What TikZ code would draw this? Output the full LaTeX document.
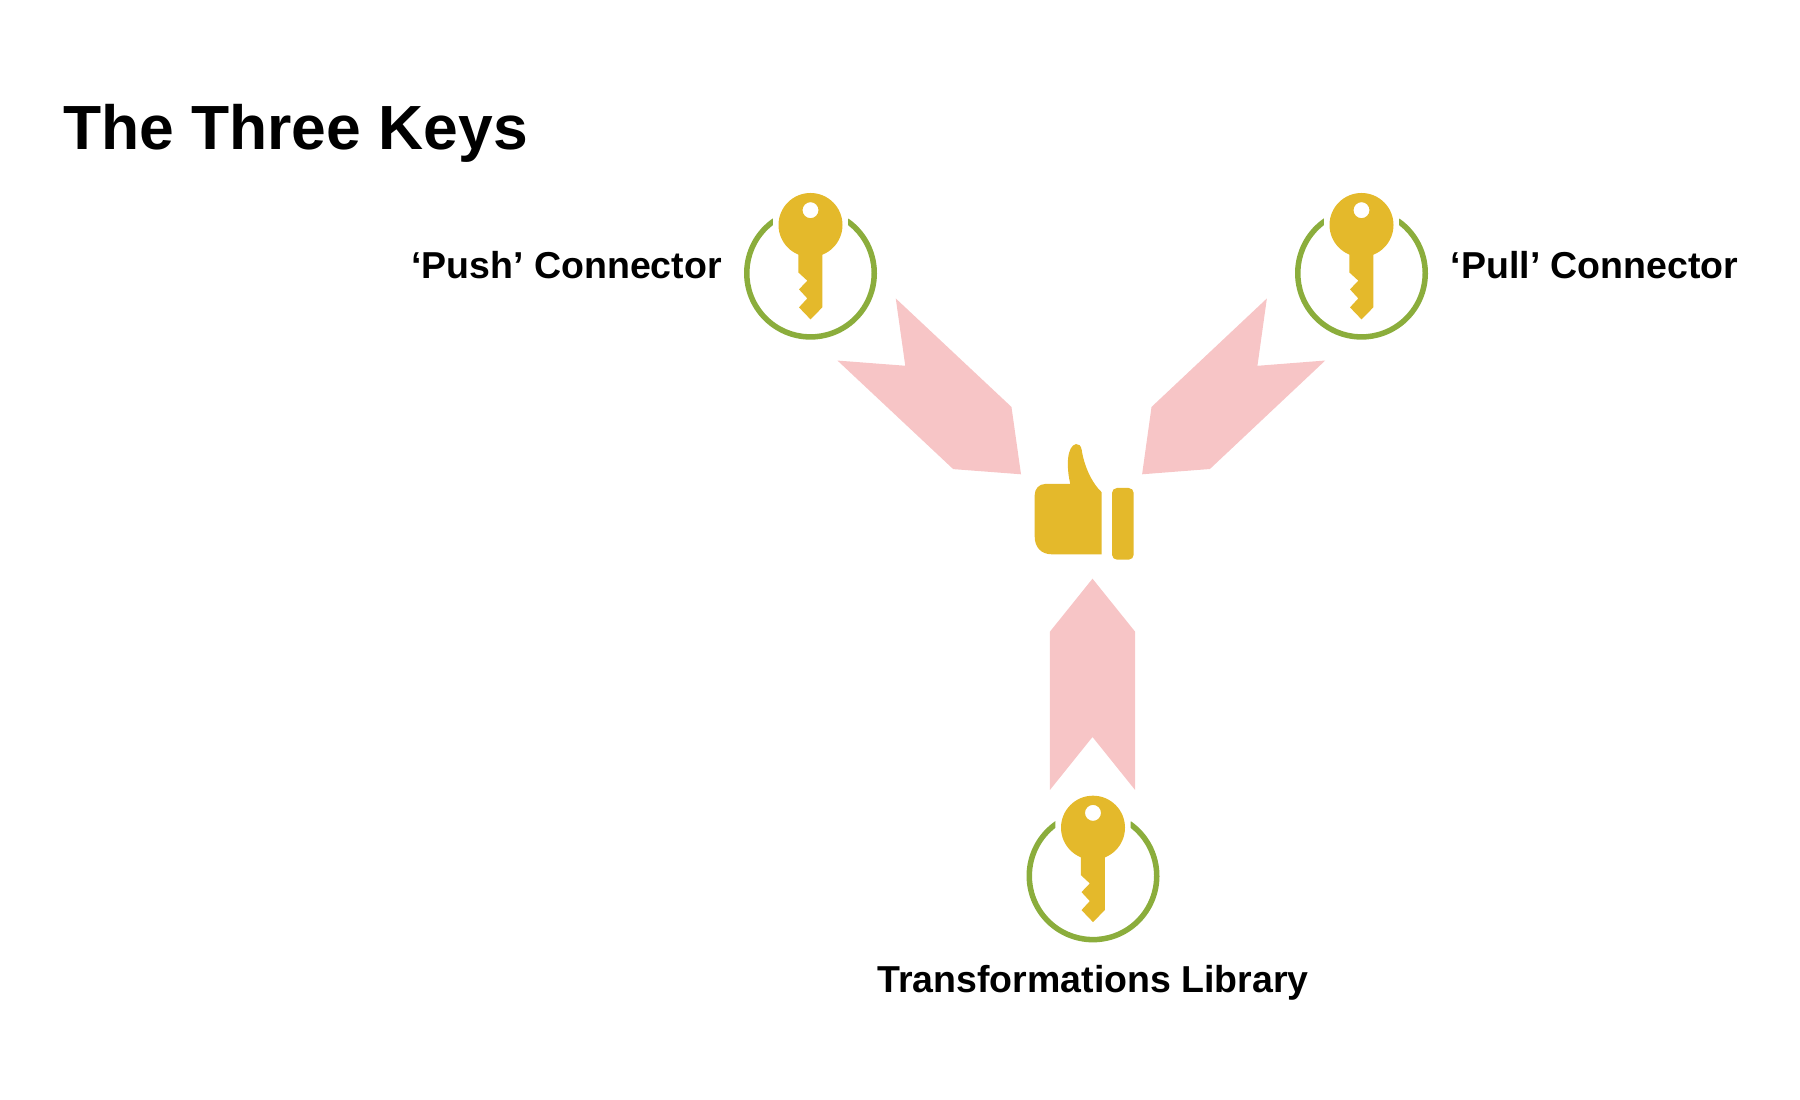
\documentclass[tikz,border=0pt]{standalone}
\usepackage{xcolor}
\usepackage{fontspec}
\setmainfont{Liberation Sans}
\usetikzlibrary{calc}
\definecolor{keycol}{HTML}{E4B92B}
\definecolor{ringcol}{HTML}{8BAD3C}
\definecolor{arrowcol}{HTML}{F7C5C6}

\newcommand{\fatarrow}[2]{%
  \coordinate (sh) at ($(#2)!53pt!(#1)$);
  \fill[fatarrow] ($(#1)!42.6pt!90:(#2)$) -- ($(#1)!53pt!(#2)$) -- ($(#1)!42.6pt!-90:(#2)$)
    -- ($(sh)!42.6pt!-90:(#2)$) -- (#2) -- ($(sh)!42.6pt!90:(#2)$) -- cycle;}

\tikzset{
  keyicon/.pic={
    % ring, open at the top
    \fill[ringcol] (55.4:66.5) arc[start angle=55.4, end angle=-235.4, radius=66.5]
      -- (128:61) arc[start angle=128, end angle=412, radius=61] -- cycle;
    \fill[keycol, even odd rule] (0,48.2) circle (32) (0,63) circle (8);
    \fill[keycol] (-12.2,22) -- (11.8,22) -- (11.8,-34.2) -- (0,-46.2) -- (-11.5,-34.2)
      -- (-3.2,-25.2) -- (-11.5,-16.2) -- (-3.2,-7.5) -- (-12.2,0.8) -- cycle;
  }
}

\begin{document}
\begin{tikzpicture}[
  x=1pt, y=1pt,
  fatarrow/.style={fill=arrowcol},
  heading/.style={font=\fontsize{62.4}{70}\selectfont\bfseries, inner sep=0pt},
  keylbl/.style={font=\fontsize{37.5}{44}\selectfont\bfseries, inner sep=0pt}
]
  \useasboundingbox (0,0) rectangle (1800,1100);

  \node[heading, anchor=base west] (title) at (63,950) {The Three Keys};

  \pic at (810.5,826.8) {keyicon};
  \pic at (1361.5,826.8) {keyicon};
  \pic at (1093,224.1) {keyicon};

  \node[keylbl, anchor=base] (pushlbl) at (566.6,821) {‘Push’ Connector};
  \node[keylbl, anchor=base] (pulllbl) at (1594.6,821) {‘Pull’ Connector};
  \node[keylbl, anchor=base] (translbl) at (1093,107) {Transformations Library};

  % thumb
  \fill[keycol] (1101.7,607.7) -- (1101.7,545.7) -- (1051.7,545.7)
    .. controls (1041,545.7) and (1034.7,553) .. (1034.7,563.3) -- (1034.7,605)
    .. controls (1034.7,611) and (1039,616) .. (1045,616) -- (1070.3,616)
    .. controls (1066,634) and (1067,654) .. (1076,656)
    .. controls (1079,656.5) and (1081,654) .. (1081.7,650)
    .. controls (1084,635) and (1091,618) .. (1101.7,607.7) -- cycle;
  \fill[keycol, rounded corners=5pt] (1112,540.3) rectangle (1133.7,612);

  \coordinate (pushtail) at (866.6,770.5);
  \coordinate (pushtip) at (1021,625.7);
  \coordinate (pulltail) at (1296.05,770.5);
  \coordinate (pulltip) at (1142.1,625.7);
  \coordinate (transtail) at (1092.5,310);
  \coordinate (transtip) at (1092.5,521.3);

  \fatarrow{pushtail}{pushtip}
  \fatarrow{pulltail}{pulltip}
  \fatarrow{transtail}{transtip}
\end{tikzpicture}
\end{document}
